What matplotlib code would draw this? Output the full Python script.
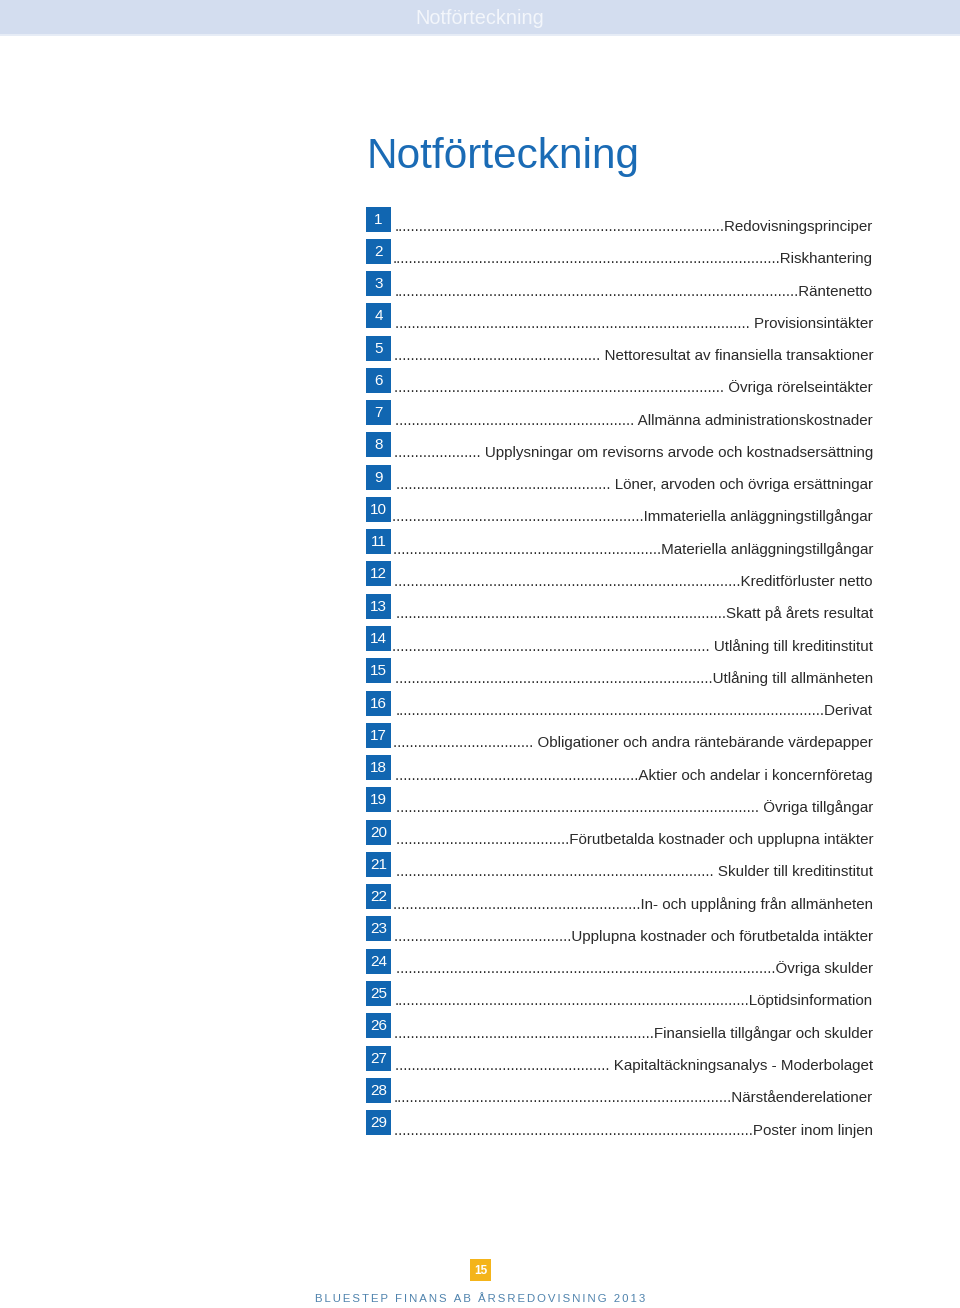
import matplotlib
matplotlib.use("Agg")
import matplotlib.pyplot as plt
from matplotlib.patches import Rectangle

plt.rcParams['font.family'] = ['Liberation Sans', 'DejaVu Sans']

# ---- data ----
header_text = "Notförteckning"
title_text = "Notförteckning"
note_numbers = list(range(1, 30))
note_titles = [
    "Redovisningsprinciper",
    "Riskhantering",
    "Räntenetto",
    "Provisionsintäkter",
    "Nettoresultat av finansiella transaktioner",
    "Övriga rörelseintäkter",
    "Allmänna administrationskostnader",
    "Upplysningar om revisorns arvode och kostnadsersättning",
    "Löner, arvoden och övriga ersättningar",
    "Immateriella anläggningstillgångar",
    "Materiella anläggningstillgångar",
    "Kreditförluster netto",
    "Skatt på årets resultat",
    "Utlåning till kreditinstitut",
    "Utlåning till allmänheten",
    "Derivat",
    "Obligationer och andra räntebärande värdepapper",
    "Aktier och andelar i koncernföretag",
    "Övriga tillgångar",
    "Förutbetalda kostnader och upplupna intäkter",
    "Skulder till kreditinstitut",
    "In- och upplåning från allmänheten",
    "Upplupna kostnader och förutbetalda intäkter",
    "Övriga skulder",
    "Löptidsinformation",
    "Finansiella tillgångar och skulder",
    "Kapitaltäckningsanalys - Moderbolaget",
    "Närståenderelationer",
    "Poster inom linjen",
]
page_number = "15"
footer_text = "BLUESTEP FINANS AB ÅRSREDOVISNING 2013"

# ---- layout / style ----
spaced_leaders = {4, 5, 6, 7, 8, 9, 14, 17, 19, 21, 27}
W, H = 960, 1308
BLUE = "#1166b1"
TITLE_BLUE = "#1a6bb5"
TEXT = "#2a2a2a"
row_step = 32.27
box_top0 = 206.5
box_x0, box_w, box_h = 366, 25, 25
label_right = 873
leader_left = 394
label_fs = 10.9

fig = plt.figure(figsize=(W / 100, H / 100), dpi=100)
ax = fig.add_axes([0, 0, 1, 1])
ax.set_xlim(0, W)
ax.set_ylim(H, 0)
ax.axis("off")
renderer = fig.canvas.get_renderer()


def text_width(s, **kw):
    t = ax.text(0, 0, s, **kw)
    w = t.get_window_extent(renderer=renderer).width
    t.remove()
    return w


# header band
ax.add_patch(Rectangle((0, 0), W, 35, facecolor="#d3ddef", edgecolor="none"))
ax.add_patch(Rectangle((0, 34), W, 2, facecolor="#e6ecf6", edgecolor="none"))
ax.text(480, 18.5, header_text, color="#f3f6fb", fontsize=14.3, ha="center", va="center")

# title
ax.text(367, 168, title_text, color=TITLE_BLUE, fontsize=30.4, ha="left", va="baseline")

dot_w = text_width("." * 50, fontsize=label_fs) / 50
avail = label_right - leader_left

for i, (num, title) in enumerate(zip(note_numbers, note_titles)):
    top = box_top0 + i * row_step
    ax.add_patch(Rectangle((box_x0, top), box_w, box_h, facecolor=BLUE, edgecolor="none"))
    ax.text(box_x0 + box_w / 2, top + box_h / 2 + 0.5, str(num), color="white",
            fontsize=11, ha="center", va="center")
    tail = (" " if num in spaced_leaders else "") + title
    tw = text_width(tail, fontsize=label_fs)
    n_dots = max(0, int(round((avail - tw) / dot_w)))
    ax.text(label_right, top + 24.5, "." * n_dots + tail, color=TEXT, fontsize=label_fs,
            ha="right", va="baseline")

# footer
ax.add_patch(Rectangle((470, 1259), 21, 22, facecolor="#f4b41a", edgecolor="none"))
ax.text(480.5, 1270.5, page_number, color="white", fontsize=8.5, fontweight="bold",
        ha="center", va="center")
footer_fs = 8.2
best = None
for k in range(1, 6):
    cand = ("\u200a" * k).join(footer_text)
    err = abs(text_width(cand, fontsize=footer_fs) - 339)
    if best is None or err < best[0]:
        best = (err, cand)
ax.text(480.5, 1299.5, best[1], color="#4f83ad", fontsize=footer_fs,
        ha="center", va="center")

fig.savefig("out.png", dpi=100, facecolor="white")
